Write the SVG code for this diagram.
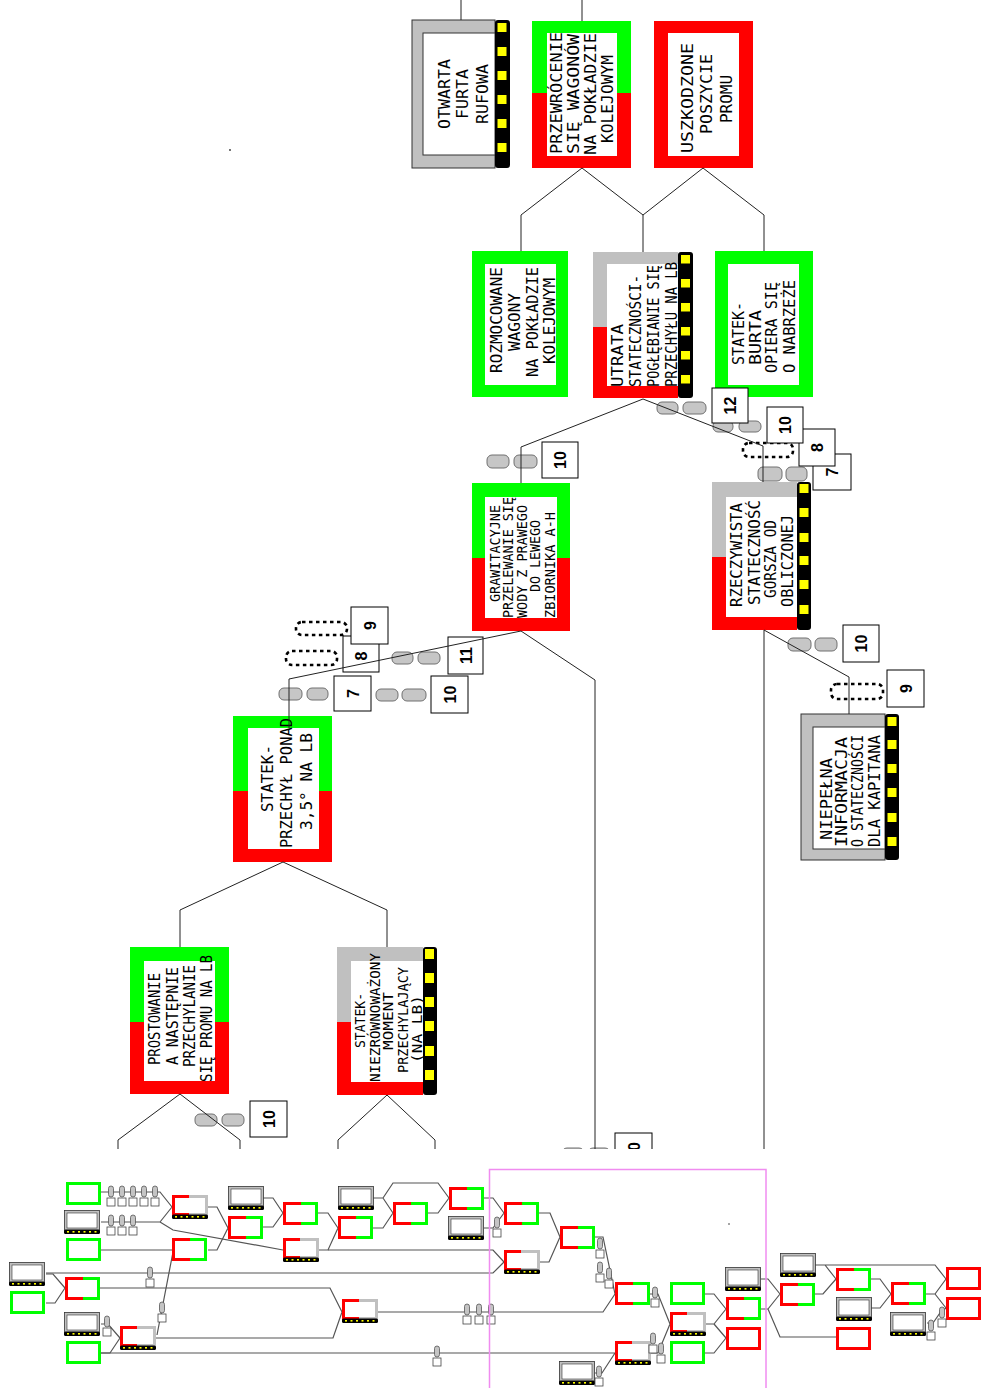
<svg xmlns="http://www.w3.org/2000/svg" xmlns:xlink="http://www.w3.org/1999/xlink" width="981" height="1388" viewBox="0 0 981 1388">
<style>
.ln{stroke:#222;stroke-width:1;fill:none}
.mln{stroke:#555;stroke-width:1.2;fill:none}
.pill{fill:#c6c6c6;stroke:#707070;stroke-width:1}
.dt{fill:none;stroke:#000;stroke-width:2.6;stroke-dasharray:3.5 3.5}
.nb{fill:#fff;stroke:#000;stroke-width:1}
.nt{font-family:"Liberation Sans",Arial,sans-serif;font-weight:bold;font-size:16px;fill:#000;text-anchor:middle}
.t{font-family:"DejaVu Sans Mono","Liberation Mono",monospace;font-size:16px;fill:#000}
.t15{font-size:15px}.t14{font-size:14px}.t13{font-size:13.5px}
.g{fill:#00ff00}.r{fill:#ff0000}.k{fill:#c0c0c0}.w{fill:#fff}
.ko{fill:#c0c0c0;stroke:#333;stroke-width:1}.wo{fill:#fff;stroke:#333;stroke-width:1}
.s{fill:#000}.y{fill:#ffff00}
</style>
<defs>
<clipPath id="cv"><rect x="0" y="0" width="981" height="1149"/></clipPath>
<g id="mG"><rect width="35" height="23" fill="#0f0"/><rect x="3" y="3" width="29" height="17" fill="#fff"/></g>
<g id="mR"><rect width="35" height="23" fill="#f00"/><rect x="3" y="3" width="29" height="17" fill="#fff"/></g>
<g id="mRG"><rect width="18" height="23" fill="#f00"/><rect x="18" width="17" height="23" fill="#0f0"/><rect x="3" y="3" width="29" height="17" fill="#fff"/></g>
<g id="mK"><rect x="0.5" y="0.5" width="35" height="20" fill="#c0c0c0" stroke="#333" stroke-width="0.8"/><rect x="3" y="3" width="30" height="15" fill="#fff" stroke="#333" stroke-width="0.6"/><rect y="19.5" width="36" height="4.5" rx="1.5" fill="#000"/><g fill="#ff0"><rect x="3" y="21" width="2" height="1.6"/><rect x="8.5" y="21" width="2" height="1.6"/><rect x="14" y="21" width="2" height="1.6"/><rect x="19.5" y="21" width="2" height="1.6"/><rect x="25" y="21" width="2" height="1.6"/><rect x="30.5" y="21" width="2" height="1.6"/></g></g>
<g id="mRK"><rect width="17" height="21" fill="#f00"/><rect x="17" width="19" height="21" fill="#c0c0c0"/><rect x="3" y="3" width="30" height="15" fill="#fff"/><rect y="19.5" width="36" height="4.5" rx="1.5" fill="#000"/><g fill="#ff0"><rect x="3" y="21" width="2" height="1.6"/><rect x="8.5" y="21" width="2" height="1.6"/><rect x="14" y="21" width="2" height="1.6"/><rect x="19.5" y="21" width="2" height="1.6"/><rect x="25" y="21" width="2" height="1.6"/><rect x="30.5" y="21" width="2" height="1.6"/></g></g>
<g id="lp"><rect x="-2.5" y="0" width="5" height="11" rx="2.5" fill="#c4c4c4" stroke="#555" stroke-width="0.8"/><rect x="-4" y="12" width="8" height="8" fill="#fff" stroke="#444" stroke-width="0.8"/></g>
</defs>
<rect x="0" y="0" width="981" height="1388" fill="#fff"/>
<g id="view" clip-path="url(#cv)">
<g id="n1">
<rect x="412" y="20" width="83" height="148" class="ko"/>
<rect x="423" y="33" width="72" height="122" class="wo"/>
<rect x="495" y="20" width="15" height="148" rx="3" class="s"/>
<rect x="497.5" y="23" width="9" height="9" class="y"/><rect x="497.5" y="47" width="9" height="9" class="y"/><rect x="497.5" y="71" width="9" height="9" class="y"/><rect x="497.5" y="95" width="9" height="9" class="y"/><rect x="497.5" y="119" width="9" height="9" class="y"/><rect x="497.5" y="143" width="9" height="9" class="y"/>
<text class="t" transform="translate(450,129) rotate(-90)" textLength="70" lengthAdjust="spacingAndGlyphs">OTWARTA</text>
<text class="t" transform="translate(468,119) rotate(-90)" textLength="50" lengthAdjust="spacingAndGlyphs">FURTA</text>
<text class="t" transform="translate(488,124) rotate(-90)" textLength="60" lengthAdjust="spacingAndGlyphs">RUFOWA</text>
</g>
<g id="n2">
<rect x="532" y="21" width="99" height="72" class="g"/>
<rect x="532" y="93" width="99" height="75" class="r"/>
<rect x="547" y="33" width="70" height="123" class="w"/>
<text class="t" transform="translate(562,154) rotate(-90)" textLength="122" lengthAdjust="spacingAndGlyphs">PRZEWRÓCENIE</text>
<text class="t" transform="translate(579,154) rotate(-90)" textLength="120" lengthAdjust="spacingAndGlyphs">SIĘ WAGONÓW</text>
<text class="t" transform="translate(596,155) rotate(-90)" textLength="122" lengthAdjust="spacingAndGlyphs">NA POKŁADZIE</text>
<text class="t" transform="translate(613,143) rotate(-90)" textLength="88" lengthAdjust="spacingAndGlyphs">KOLEJOWYM</text>
</g>
<g id="n3">
<rect x="654" y="21" width="99" height="147" class="r"/>
<rect x="668" y="33" width="71" height="123" class="w"/>
<text class="t" transform="translate(693,153) rotate(-90)" textLength="110" lengthAdjust="spacingAndGlyphs">USZKODZONE</text>
<text class="t" transform="translate(712,134) rotate(-90)" textLength="80" lengthAdjust="spacingAndGlyphs">POSZYCIE</text>
<text class="t" transform="translate(732,123) rotate(-90)" textLength="48" lengthAdjust="spacingAndGlyphs">PROMU</text>
</g>
<g id="n4">
<rect x="472" y="251" width="96" height="146" class="g"/>
<rect x="485" y="264" width="71" height="121" class="w"/>
<text class="t" transform="translate(502,373) rotate(-90)" textLength="106" lengthAdjust="spacingAndGlyphs">ROZMOCOWANE</text>
<text class="t" transform="translate(520,351) rotate(-90)" textLength="58" lengthAdjust="spacingAndGlyphs">WAGONY</text>
<text class="t" transform="translate(538,377) rotate(-90)" textLength="110" lengthAdjust="spacingAndGlyphs">NA POKŁADZIE</text>
<text class="t" transform="translate(555,364) rotate(-90)" textLength="86" lengthAdjust="spacingAndGlyphs">KOLEJOWYM</text>
</g>
<g id="n5">
<rect x="593" y="252" width="85" height="75" class="k"/>
<rect x="593" y="327" width="85" height="71" class="r"/>
<rect x="607" y="264" width="71" height="122" class="w"/>
<rect x="678" y="252" width="15" height="146" rx="3" class="s"/>
<rect x="681" y="255" width="9" height="8.5" class="y"/><rect x="681" y="279" width="9" height="8.5" class="y"/><rect x="681" y="303" width="9" height="8.5" class="y"/><rect x="681" y="327" width="9" height="8.5" class="y"/><rect x="681" y="351" width="9" height="8.5" class="y"/><rect x="681" y="375" width="9" height="8.5" class="y"/>
<text class="t" transform="translate(623,387) rotate(-90)" textLength="63" lengthAdjust="spacingAndGlyphs">UTRATA</text>
<text class="t" transform="translate(641,387) rotate(-90)" textLength="112" lengthAdjust="spacingAndGlyphs">STATECZNOŚCI-</text>
<text class="t" transform="translate(659,387) rotate(-90)" textLength="122" lengthAdjust="spacingAndGlyphs">POGŁĘBIANIE SIĘ</text>
<text class="t" transform="translate(677,387) rotate(-90)" textLength="125" lengthAdjust="spacingAndGlyphs">PRZECHYŁU NA LB</text>
</g>
<g id="n6">
<rect x="715" y="251" width="98" height="146" class="g"/>
<rect x="728" y="264" width="71" height="121" class="w"/>
<text class="t" transform="translate(744,365) rotate(-90)" textLength="63" lengthAdjust="spacingAndGlyphs">STATEK-</text>
<text class="t" transform="translate(761,365) rotate(-90)" textLength="55" lengthAdjust="spacingAndGlyphs">BURTA</text>
<text class="t" transform="translate(777,373) rotate(-90)" textLength="91" lengthAdjust="spacingAndGlyphs">OPIERA SIĘ</text>
<text class="t" transform="translate(795,373) rotate(-90)" textLength="93" lengthAdjust="spacingAndGlyphs">O NABRZEŻE</text>
</g>
<g id="n7">
<rect x="472" y="483" width="98" height="75" class="g"/>
<rect x="472" y="558" width="98" height="73" class="r"/>
<rect x="485" y="497" width="72" height="121" class="w"/>
<text class="t t13" transform="translate(500,602) rotate(-90)" textLength="97" lengthAdjust="spacingAndGlyphs">GRAWITACYJNE</text>
<text class="t t13" transform="translate(513,618) rotate(-90)" textLength="121" lengthAdjust="spacingAndGlyphs">PRZELEWANIE SIĘ</text>
<text class="t t13" transform="translate(527,618) rotate(-90)" textLength="113" lengthAdjust="spacingAndGlyphs">WODY Z PRAWEGO</text>
<text class="t t13" transform="translate(540,592) rotate(-90)" textLength="72" lengthAdjust="spacingAndGlyphs">DO LEWEGO</text>
<text class="t t13" transform="translate(555,618) rotate(-90)" textLength="106" lengthAdjust="spacingAndGlyphs">ZBIORNIKA A-H</text>
</g>
<g id="n8">
<rect x="712" y="482" width="85" height="75" class="k"/>
<rect x="712" y="557" width="85" height="73" class="r"/>
<rect x="726" y="497" width="71" height="120" class="w"/>
<rect x="797" y="482" width="14" height="148" rx="3" class="s"/>
<rect x="799.5" y="484" width="9" height="9" class="y"/><rect x="799.5" y="508" width="9" height="9" class="y"/><rect x="799.5" y="533" width="9" height="9" class="y"/><rect x="799.5" y="556" width="9" height="9" class="y"/><rect x="799.5" y="580" width="9" height="9" class="y"/><rect x="799.5" y="605" width="9" height="9" class="y"/>
<text class="t" transform="translate(742,607) rotate(-90)" textLength="104" lengthAdjust="spacingAndGlyphs">RZECZYWISTA</text>
<text class="t" transform="translate(760,605) rotate(-90)" textLength="105" lengthAdjust="spacingAndGlyphs">STATECZNOŚĆ</text>
<text class="t" transform="translate(776,598) rotate(-90)" textLength="78" lengthAdjust="spacingAndGlyphs">GORSZA OD</text>
<text class="t" transform="translate(793,607) rotate(-90)" textLength="92" lengthAdjust="spacingAndGlyphs">OBLICZONEJ</text>
</g>
<g id="n9">
<rect x="233" y="716" width="99" height="75" class="g"/>
<rect x="233" y="791" width="99" height="71" class="r"/>
<rect x="248" y="728" width="71" height="121" class="w"/>
<text class="t" transform="translate(273,812) rotate(-90)" textLength="67" lengthAdjust="spacingAndGlyphs">STATEK-</text>
<text class="t" transform="translate(292,848) rotate(-90)" textLength="130" lengthAdjust="spacingAndGlyphs">PRZECHYŁ PONAD</text>
<text class="t" transform="translate(312,830) rotate(-90)" textLength="97" lengthAdjust="spacingAndGlyphs">3,5° NA LB</text>
</g>
<g id="n10">
<rect x="801" y="714" width="84" height="146" class="ko"/>
<rect x="813" y="727" width="72" height="122" class="wo"/>
<rect x="885" y="714" width="14" height="146" rx="3" class="s"/>
<rect x="887.5" y="717" width="9" height="9" class="y"/><rect x="887.5" y="740" width="9" height="9" class="y"/><rect x="887.5" y="764" width="9" height="9" class="y"/><rect x="887.5" y="788" width="9" height="9" class="y"/><rect x="887.5" y="813" width="9" height="9" class="y"/><rect x="887.5" y="837" width="9" height="9" class="y"/>
<text class="t t15" transform="translate(832,840) rotate(-90)" textLength="82" lengthAdjust="spacingAndGlyphs">NIEPEŁNA</text>
<text class="t t15" transform="translate(847,847) rotate(-90)" textLength="110" lengthAdjust="spacingAndGlyphs">INFORMACJA</text>
<text class="t t15" transform="translate(863,847) rotate(-90)" textLength="112" lengthAdjust="spacingAndGlyphs">O STATECZNOŚCI</text>
<text class="t t15" transform="translate(880,847) rotate(-90)" textLength="112" lengthAdjust="spacingAndGlyphs">DLA KAPITANA</text>
</g>
<g id="n11">
<rect x="130" y="947" width="99" height="75" class="g"/>
<rect x="130" y="1022" width="99" height="72" class="r"/>
<rect x="144" y="961" width="71" height="120" class="w"/>
<text class="t" transform="translate(160,1065) rotate(-90)" textLength="92" lengthAdjust="spacingAndGlyphs">PROSTOWANIE</text>
<text class="t" transform="translate(178,1065) rotate(-90)" textLength="98" lengthAdjust="spacingAndGlyphs">A NASTĘPNIE</text>
<text class="t" transform="translate(195,1067) rotate(-90)" textLength="102" lengthAdjust="spacingAndGlyphs">PRZECHYLANIE</text>
<text class="t" transform="translate(212,1082) rotate(-90)" textLength="127" lengthAdjust="spacingAndGlyphs">SIĘ PROMU NA LB</text>
</g>
<g id="n12">
<rect x="337" y="947" width="86" height="75" class="k"/>
<rect x="337" y="1022" width="86" height="73" class="r"/>
<rect x="351" y="961" width="72" height="121" class="w"/>
<rect x="423" y="947" width="14" height="148" rx="3" class="s"/>
<rect x="425" y="949" width="9" height="10" class="y"/><rect x="425" y="973" width="9" height="10" class="y"/><rect x="425" y="997" width="9" height="10" class="y"/><rect x="425" y="1021" width="9" height="10" class="y"/><rect x="425" y="1046" width="9" height="10" class="y"/><rect x="425" y="1070" width="9" height="10" class="y"/>
<text class="t t14" transform="translate(365,1048) rotate(-90)" textLength="55" lengthAdjust="spacingAndGlyphs">STATEK-</text>
<text class="t t14" transform="translate(380,1082) rotate(-90)" textLength="129" lengthAdjust="spacingAndGlyphs">NIEZRÓWNOWAŻONY</text>
<text class="t t14" transform="translate(393,1050) rotate(-90)" textLength="58" lengthAdjust="spacingAndGlyphs">MOMENT</text>
<text class="t t14" transform="translate(408,1073) rotate(-90)" textLength="106" lengthAdjust="spacingAndGlyphs">PRZECHYLAJĄCY</text>
<text class="t t14" transform="translate(422,1063) rotate(-90)" textLength="68" lengthAdjust="spacingAndGlyphs">(NA LB)</text>
</g>
<g id="barriers">
<rect x="657" y="402" width="21" height="12" rx="5" class="pill"/><rect x="683" y="402" width="23" height="12" rx="5" class="pill"/>
<rect x="713" y="421" width="20" height="11" rx="5" class="pill"/><rect x="739" y="421" width="22" height="11" rx="5" class="pill"/>
<rect x="758" y="467" width="24" height="14" rx="5" class="pill"/><rect x="786" y="467" width="21" height="14" rx="5" class="pill"/>
<rect x="487" y="455" width="22" height="13" rx="5" class="pill"/><rect x="514" y="455" width="23" height="13" rx="5" class="pill"/>
<rect x="392" y="652" width="21" height="12" rx="5" class="pill"/><rect x="418" y="652" width="22" height="12" rx="5" class="pill"/>
<rect x="279" y="688" width="23" height="12" rx="5" class="pill"/><rect x="307" y="688" width="21" height="12" rx="5" class="pill"/>
<rect x="376" y="689" width="22" height="12" rx="5" class="pill"/><rect x="402" y="689" width="24" height="12" rx="5" class="pill"/>
<rect x="788" y="638" width="23" height="13" rx="5" class="pill"/><rect x="815" y="638" width="22" height="13" rx="5" class="pill"/>
<rect x="195" y="1114" width="22" height="12" rx="5" class="pill"/><rect x="222" y="1114" width="22" height="12" rx="5" class="pill"/>
<rect x="562" y="1148" width="22" height="12" rx="5" class="pill"/><rect x="588" y="1148" width="22" height="12" rx="5" class="pill"/>
<rect x="743" y="443" width="50" height="14" rx="6" class="dt"/>
<rect x="296" y="622" width="51" height="13" rx="6" class="dt"/>
<rect x="286" y="651" width="51" height="14" rx="6" class="dt"/>
<rect x="831" y="684" width="52" height="15" rx="6" class="dt"/>
<rect x="712" y="388" width="36" height="35" class="nb"/><text class="nt" transform="translate(736,405.5) rotate(-90)">12</text>
<rect x="813" y="454" width="38" height="36" class="nb"/><text class="nt" transform="translate(838,472) rotate(-90)">7</text>
<rect x="799" y="429" width="36" height="37" class="nb"/><text class="nt" transform="translate(823,447.5) rotate(-90)">8</text>
<rect x="767" y="407" width="36" height="36" class="nb"/><text class="nt" transform="translate(791,425) rotate(-90)">10</text>
<rect x="542" y="442" width="36" height="36" class="nb"/><text class="nt" transform="translate(566,460) rotate(-90)">10</text>
<rect x="343" y="636" width="36" height="36" class="nb"/><text class="nt" transform="translate(367,656) rotate(-90)">8</text>
<rect x="351" y="607" width="37" height="37" class="nb"/><text class="nt" transform="translate(375.5,625.5) rotate(-90)">9</text>
<rect x="448" y="637" width="35" height="37" class="nb"/><text class="nt" transform="translate(471.5,655.5) rotate(-90)">11</text>
<rect x="334" y="676" width="37" height="35" class="nb"/><text class="nt" transform="translate(358.5,693.5) rotate(-90)">7</text>
<rect x="431" y="676" width="37" height="37" class="nb"/><text class="nt" transform="translate(455.5,694.5) rotate(-90)">10</text>
<rect x="843" y="625" width="36" height="37" class="nb"/><text class="nt" transform="translate(867,643.5) rotate(-90)">10</text>
<rect x="887" y="670" width="37" height="37" class="nb"/><text class="nt" transform="translate(911.5,688.5) rotate(-90)">9</text>
<rect x="250" y="1101" width="37" height="36" class="nb"/><text class="nt" transform="translate(274.5,1119) rotate(-90)">10</text>
<rect x="615" y="1133" width="37" height="36" class="nb"/><text class="nt" transform="translate(639.5,1151) rotate(-90)">10</text>
</g>
<g id="connectors">
<path class="ln" d="M461,0V20M582,0V21"/>
<path class="ln" d="M582,168L521,215V251M582,168L643,215V252M703,168L643,215M703,168L764,215V251"/>
<path class="ln" d="M643,399L521,447V483M643,399L763,446V482"/>
<path class="ln" d="M521,631L289,679V728M521,631L595,680V1149"/>
<path class="ln" d="M764,630V1149M764,630L849,677V714"/>
<path class="ln" d="M283,862L180,910V947M283,862L387,910V947"/>
<path class="ln" d="M180,1094L118,1140V1149M180,1094L240,1140V1149M387,1095L338,1140V1149M387,1095L435,1140V1149"/>
</g>
<circle cx="230" cy="150" r="0.9" fill="#333"/>
</g>
<g id="minimap">
<g id="mm-connectors">
<path class="mln" d="M101,1192H160L172,1207M101,1222H160L172,1207M160,1222L173,1230L283,1250"/>
<path class="mln" d="M208,1207H217L228,1228M208,1250H217L228,1228M101,1250H172"/>
<path class="mln" d="M263,1198H273L283,1213M263,1227H273L283,1213M318,1213H328L338,1228M318,1250H328L338,1228"/>
<path class="mln" d="M328,1250H493L504,1262M46,1273H493L504,1262"/>
<path class="mln" d="M373,1198H383L393,1213M383,1198L393,1183H438L449,1198M373,1228H383L393,1213M428,1213H438L449,1198"/>
<path class="mln" d="M484,1198H493L504,1213M484,1228H493L504,1213M539,1213H550L560,1237M539,1262H549L560,1237"/>
<path class="mln" d="M594,1237H603L615,1294M377,1312H603L615,1294M101,1353H615M595,1373H602L615,1353"/>
<path class="mln" d="M650,1294H658L670,1324M650,1353H658L670,1324M705,1294H714L726,1309M705,1324H714L726,1309M714,1324L726,1338M705,1353H714L726,1338"/>
<path class="mln" d="M761,1279H768L780,1294M761,1309H768L780,1294M768,1309L780,1337H836"/>
<path class="mln" d="M815,1265H935L946,1279M825,1265L836,1279M815,1294H823L836,1279"/>
<path class="mln" d="M870,1279H880L891,1294M870,1308H880L891,1294M926,1294H935L946,1279M935,1294L946,1308M927,1323H933L940,1313L946,1308"/>
<path class="mln" d="M46,1274H53L65,1288M46,1303H55L65,1288M100,1288H330L342,1312M156,1338H333L342,1312M157,1335L173,1252M101,1324H108L120,1338M101,1353H110L120,1338"/>
</g>
<g id="mm-nodes">
<use xlink:href="#mG" x="66" y="1182"/>
<use xlink:href="#mK" x="64" y="1210"/>
<use xlink:href="#mG" x="66" y="1238"/>
<use xlink:href="#mK" x="9" y="1262"/>
<use xlink:href="#mG" x="10" y="1291"/>
<use xlink:href="#mK" x="64" y="1312"/>
<use xlink:href="#mG" x="66" y="1341"/>
<use xlink:href="#mRK" x="172" y="1195"/>
<use xlink:href="#mRG" x="172" y="1238"/>
<use xlink:href="#mRG" x="65" y="1277"/>
<use xlink:href="#mK" x="228" y="1186"/>
<use xlink:href="#mRG" x="228" y="1216"/>
<use xlink:href="#mRG" x="283" y="1202"/>
<use xlink:href="#mRK" x="283" y="1238"/>
<use xlink:href="#mK" x="338" y="1186"/>
<use xlink:href="#mRG" x="338" y="1216"/>
<use xlink:href="#mRG" x="393" y="1202"/>
<use xlink:href="#mRG" x="449" y="1187"/>
<use xlink:href="#mK" x="448" y="1216"/>
<use xlink:href="#mRK" x="342" y="1299"/>
<use xlink:href="#mRK" x="120" y="1326"/>
<use xlink:href="#mRG" x="504" y="1202"/>
<use xlink:href="#mRK" x="504" y="1250"/>
<use xlink:href="#mRG" x="560" y="1226"/>
<use xlink:href="#mRG" x="615" y="1282"/>
<use xlink:href="#mRK" x="615" y="1341"/>
<use xlink:href="#mK" x="559" y="1361"/>
<use xlink:href="#mG" x="670" y="1282"/>
<use xlink:href="#mRK" x="670" y="1312"/>
<use xlink:href="#mG" x="670" y="1341"/>
<use xlink:href="#mK" x="725" y="1267"/>
<use xlink:href="#mRG" x="726" y="1297"/>
<use xlink:href="#mR" x="726" y="1327"/>
<use xlink:href="#mK" x="780" y="1253"/>
<use xlink:href="#mRG" x="780" y="1283"/>
<use xlink:href="#mRG" x="836" y="1268"/>
<use xlink:href="#mK" x="836" y="1297"/>
<use xlink:href="#mR" x="836" y="1327"/>
<use xlink:href="#mRG" x="891" y="1282"/>
<use xlink:href="#mK" x="890" y="1312"/>
<use xlink:href="#mR" x="946" y="1267"/>
<use xlink:href="#mR" x="946" y="1297"/>
</g>
<g id="mm-barriers">
<use xlink:href="#lp" x="111" y="1186"/><use xlink:href="#lp" x="122" y="1186"/><use xlink:href="#lp" x="133" y="1186"/><use xlink:href="#lp" x="144" y="1186"/><use xlink:href="#lp" x="155" y="1186"/>
<use xlink:href="#lp" x="111" y="1215"/><use xlink:href="#lp" x="122" y="1215"/><use xlink:href="#lp" x="133" y="1215"/>
<use xlink:href="#lp" x="150" y="1267"/>
<use xlink:href="#lp" x="107" y="1316"/>
<use xlink:href="#lp" x="162" y="1302"/>
<use xlink:href="#lp" x="467" y="1304"/><use xlink:href="#lp" x="479" y="1304"/><use xlink:href="#lp" x="491" y="1304"/>
<use xlink:href="#lp" x="437" y="1346"/>
<use xlink:href="#lp" x="497" y="1217"/>
<use xlink:href="#lp" x="600" y="1238"/><use xlink:href="#lp" x="600" y="1262"/><use xlink:href="#lp" x="609" y="1268"/>
<use xlink:href="#lp" x="655" y="1287"/>
<use xlink:href="#lp" x="653" y="1333"/><use xlink:href="#lp" x="661" y="1343"/>
<use xlink:href="#lp" x="599" y="1366"/>
<use xlink:href="#lp" x="942" y="1307"/><use xlink:href="#lp" x="931" y="1320"/>
</g>
<rect x="489.5" y="1169.5" width="276.5" height="240" fill="none" stroke="#f08cf0" stroke-width="1.5"/>
<circle cx="729" cy="1224" r="0.8" fill="#333"/>
</g>
</svg>
